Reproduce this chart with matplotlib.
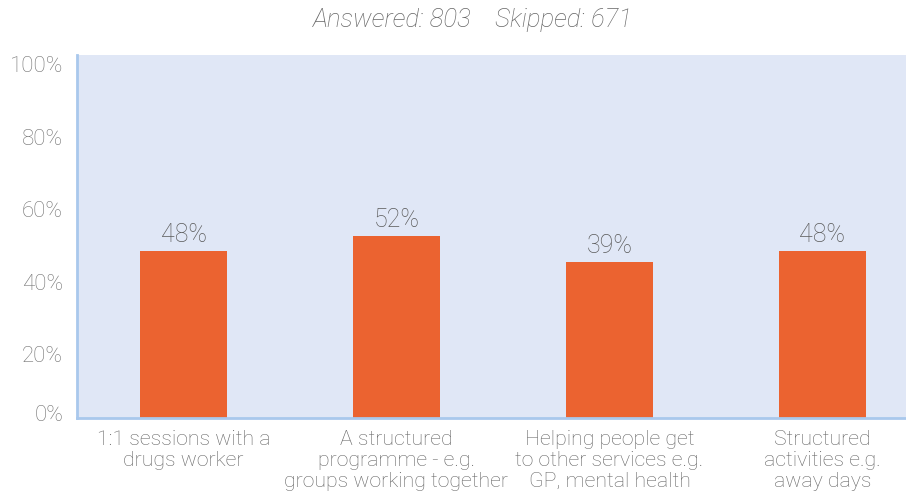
import matplotlib
matplotlib.use("Agg")
import matplotlib.pyplot as plt
import matplotlib.transforms as mtransforms

categories = [
    "1:1 sessions with a\ndrugs worker",
    "A structured\nprogramme - e.g.\ngroups working together",
    "Helping people get\nto other services e.g.\nGP, mental health",
    "Structured\nactivities e.g.\naway days",
]
bar_heights = [45.8, 50.0, 42.8, 45.8]
bar_labels = ["48%", "52%", "39%", "48%"]
y_ticks = [0, 20, 40, 60, 80, 100]
y_tick_labels = ["0%", "20%", "40%", "60%", "80%", "100%"]
title = "Answered: 803    Skipped: 671"

plt.rcParams["font.family"] = ["Roboto", "DejaVu Sans"]

W, H = 906, 498
fig = plt.figure(figsize=(W / 100, H / 100), dpi=100)
left, right, bottom, top = 77, 929, 417.5, 55
ax = fig.add_axes([left / W, 1 - bottom / H, (right - left) / W, (bottom - top) / H])
ax.set_facecolor("#e0e7f6")

x = list(range(len(categories)))
ax.bar(x, bar_heights, width=0.41, color="#eb6330", zorder=2)
for xi, h, lab in zip(x, bar_heights, bar_labels):
    ax.annotate(lab, (xi, h), xytext=(0, 3), textcoords="offset points",
                ha="center", va="bottom", fontsize=18, color="#5a5a5a", fontweight="light")

ax.set_xlim(-0.5, len(categories) - 0.5)
ax.set_ylim(0, 100)
ax.set_yticks(y_ticks)
ax.set_yticklabels(y_tick_labels, fontsize=16, color="#737373", fontweight="light")
ax.set_xticks(x)
ax.set_xticklabels(categories, fontsize=15.3, color="#666666", fontweight="light",
                   linespacing=1.14, va="top")
ax.tick_params(axis="both", length=0)
ax.tick_params(axis="y", pad=10)
ax.tick_params(axis="x", pad=9)

for lab in ax.get_yticklabels():
    dy = 3 / 72 if lab.get_text() == "0%" else -6.5 / 72
    lab.set_transform(lab.get_transform() + mtransforms.ScaledTranslation(0, dy, fig.dpi_scale_trans))

for s in ["top", "right"]:
    ax.spines[s].set_visible(False)
for s in ["left", "bottom"]:
    ax.spines[s].set_color("#a9c8ec")
    ax.spines[s].set_linewidth(2)

fig.text(473 / W, 1 - 20 / H, title, ha="center", va="center", fontsize=18.5,
         style="italic", color="#666666", fontweight="light")

fig.savefig("out.png", dpi=100)
